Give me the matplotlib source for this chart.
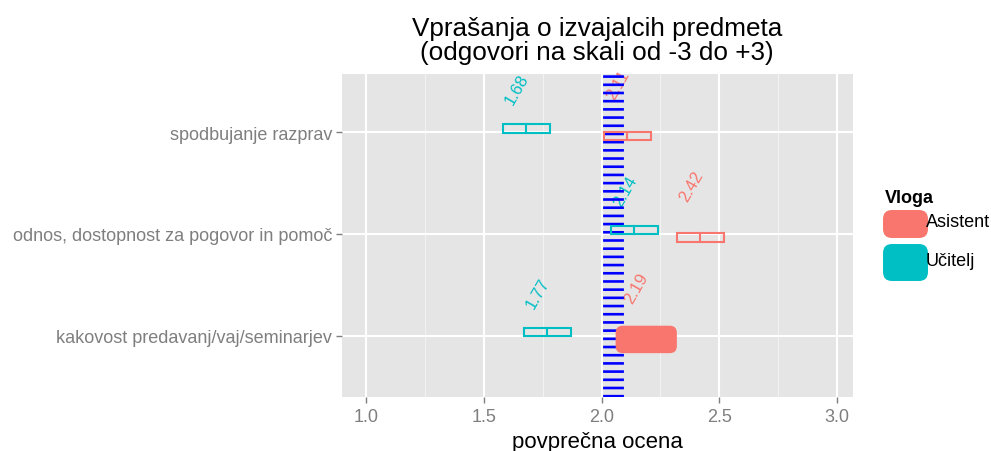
import matplotlib.pyplot as plt
from matplotlib.patches import FancyBboxPatch, Rectangle

# podatki
categories = ["kakovost predavanj/vaj/seminarjev",
              "odnos, dostopnost za pogovor in pomoč",
              "spodbujanje razprav"]
ucitelj = [1.77, 2.14, 1.68]
asistent = [2.19, 2.42, 2.11]
ref_value = 2.05
x_ticks = [1.0, 1.5, 2.0, 2.5, 3.0]

col_asistent = "#F8766D"
col_ucitelj = "#00BFC4"

plt.rcParams['font.family'] = ['Liberation Sans', 'DejaVu Sans']

fig = plt.figure(figsize=(9.91, 4.52), dpi=100)
ax = fig.add_axes([342 / 991, 1 - 398 / 452, 511 / 991, 323 / 452])
ax.set_facecolor("#E5E5E5")
for s in ax.spines.values():
    s.set_visible(False)

ax.set_xlim(0.898, 3.068)
ax.set_ylim(-0.6, 2.57)

# mreža
ax.set_xticks(x_ticks)
ax.set_xticks([1.25, 1.75, 2.25, 2.75], minor=True)
ax.set_yticks(range(len(categories)))
ax.set_yticklabels(categories)
ax.grid(which="major", color="white", linewidth=1.5)
ax.grid(which="minor", axis="x", color="#F2F2F2", linewidth=0.8)
ax.set_axisbelow(True)
ax.tick_params(axis="both", which="major", colors="#7F7F7F", labelsize=13, length=4, width=1, pad=3)
ax.tick_params(axis="x", which="minor", length=0)
ax.tick_params(axis="x", which="major", pad=4)
ax.set_xticklabels([f"{t:.1f}" for t in x_ticks])

# referenčna črta
plt.rcParams['lines.scale_dashes'] = False
ax.axvline(ref_value, color="blue", linewidth=15, linestyle=(0, (1.9, 4.0)), zorder=3)

half_w = 0.1
box_h = 0.08
pix_aspect = 235.5 / 102

def crossbar(val, y, color):
    ax.add_patch(Rectangle((val - half_w, y - box_h / 2), 2 * half_w, box_h,
                           fill=False, edgecolor=color, linewidth=1.5, zorder=4))
    ax.plot([val, val], [y - box_h / 2, y + box_h / 2], color=color, linewidth=1.5, zorder=4)

for i, (u, a) in enumerate(zip(ucitelj, asistent)):
    crossbar(u, i + 0.035, col_ucitelj)
    if i == 0:
        # poudarjen pravokotnik
        w, h = 0.23, 0.2
        ax.add_patch(FancyBboxPatch((a - w / 2, i - 0.035 - h / 2), w, h,
                                    boxstyle="round,pad=0.015,rounding_size=0.03",
                                    mutation_aspect=pix_aspect,
                                    facecolor=col_asistent, edgecolor="none", zorder=5))
    else:
        crossbar(a, i - 0.035, col_asistent)
    ax.text(u - 0.04, i + 0.42, f"{u:.2f}", rotation=60, ha="center", va="center",
            color=col_ucitelj, fontsize=12, zorder=2)
    ax.text(a - 0.04, i + 0.47, f"{a:.2f}", rotation=60, ha="center", va="center",
            color=col_asistent, fontsize=12, zorder=2)

ax.set_xlabel("povprečna ocena", fontsize=16, labelpad=4)
fig.text(597 / 991, 1 - 41 / 452, "Vprašanja o izvajalcih predmeta\n(odgovori na skali od -3 do +3)",
         ha="center", va="center", fontsize=18.8, linespacing=1.05)

# legenda
fig.text(885 / 991, 1 - 199 / 452, "Vloga", fontsize=13, fontweight="bold", va="center")
fig_aspect = 991 / 452
for (y0, y1), col, lab in [((211, 239), col_asistent, "Asistent"), ((245, 282), col_ucitelj, "Učitelj")]:
    fig.patches.append(FancyBboxPatch((885 / 991, 1 - (y1 - 2) / 452), 41 / 991, (y1 - y0 - 4) / 452,
                                      boxstyle="round,pad=0.002,rounding_size=0.009",
                                      mutation_aspect=fig_aspect, transform=fig.transFigure,
                                      facecolor=col, edgecolor="none"))
    fig.text(926 / 991, 1 - (y0 + y1) / 2 / 452 + 0.005, lab, fontsize=13, va="center")

fig.savefig("out.png", dpi=100)
